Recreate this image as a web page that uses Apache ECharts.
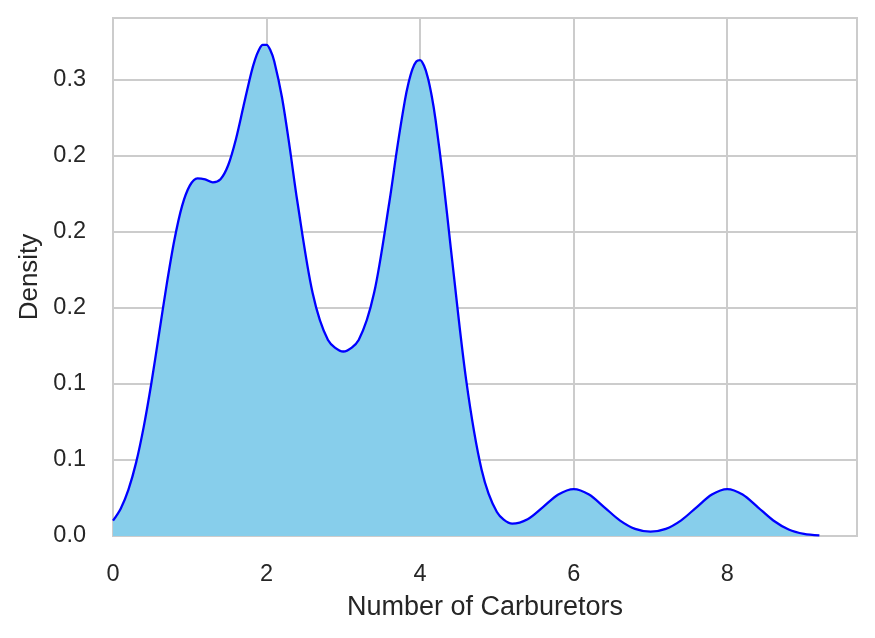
<!DOCTYPE html>
<html>
<head>
<meta charset="utf-8">
<script src="https://cdn.jsdelivr.net/npm/echarts@6/dist/echarts.min.js"></script>
<style>
  html, body { margin: 0; padding: 0; background: #ffffff; }
  #chart { width: 875px; height: 638px; }
</style>
</head>
<body>
<div id="chart"></div>
<script>
// Density curve (x = number of carburetors, y = density)
const xValues = [
  0.0, 0.1, 0.2, 0.3, 0.4, 0.5, 0.6, 0.7, 0.8, 0.9,
  1.0, 1.1, 1.2, 1.3, 1.4, 1.5, 1.6, 1.7, 1.8, 1.85, 1.9, 1.95,
  2.0, 2.05, 2.1, 2.2, 2.3, 2.4, 2.6, 2.8, 3.0, 3.2, 3.4,
  3.6, 3.7, 3.8, 3.85, 3.9, 3.95, 4.0, 4.05, 4.1, 4.15, 4.2, 4.3, 4.4, 4.6,
  4.8, 5.0, 5.2, 5.4, 5.6, 5.8, 6.0, 6.2, 6.4, 6.6,
  6.8, 7.0, 7.2, 7.4, 7.6, 7.8, 8.0, 8.2, 8.4, 8.6,
  8.8, 9.0, 9.2
];
const densityValues = [
  0.0101, 0.0180, 0.0304, 0.0481, 0.0718, 0.1007, 0.1331, 0.1657, 0.1949, 0.2172,
  0.2305, 0.2353, 0.2346, 0.2327, 0.2347, 0.2439, 0.2609, 0.2829, 0.3046, 0.3134, 0.3197, 0.3231,
  0.3231, 0.3196, 0.3124, 0.2888, 0.2562, 0.2204, 0.1599, 0.1290, 0.1214, 0.1290, 0.1598,
  0.2199, 0.2549, 0.2861, 0.2983, 0.3072, 0.3122, 0.3131, 0.3095, 0.3017, 0.2898, 0.2742, 0.2348, 0.1893, 0.1025,
  0.0438, 0.0158, 0.0081, 0.0110, 0.0190, 0.0273, 0.0309, 0.0273, 0.0189, 0.0103,
  0.0047, 0.0029, 0.0047, 0.0103, 0.0189, 0.0273, 0.0309, 0.0273, 0.0189, 0.0102,
  0.0043, 0.0014, 0.0004
];
const xTicks = [0, 2, 4, 6, 8];
const xTickLabels = ['0', '2', '4', '6', '8'];
const yTicks = [0.0, 0.05, 0.10, 0.15, 0.20, 0.25, 0.30];
const yTickLabels = ['0.0', '0.1', '0.1', '0.2', '0.2', '0.2', '0.3'];
const xTitle = 'Number of Carburetors';
const yTitle = 'Density';

function labelFor(ticks, labels, v) {
  for (let i = 0; i < ticks.length; i++) {
    if (Math.abs(ticks[i] - v) < 1e-6) return labels[i];
  }
  return '';
}

const chart = echarts.init(document.getElementById('chart'), null, { renderer: 'canvas' });
const textColor = '#262626';
const gridColor = '#cccccc';
const fontFamily = '"Liberation Sans", Arial, sans-serif';

chart.setOption({
  backgroundColor: '#ffffff',
  animation: false,
  grid: {
    left: 113, right: 18, top: 18, bottom: 102,
    show: true, borderColor: gridColor, borderWidth: 2, backgroundColor: 'transparent'
  },
  xAxis: {
    type: 'value',
    min: 0, max: 9.69, interval: 2,
    name: xTitle, nameLocation: 'middle', nameGap: 58,
    nameTextStyle: { color: textColor, fontSize: 27, fontFamily: fontFamily },
    axisLine: { show: false },
    axisTick: { show: false },
    axisLabel: {
      color: textColor, fontSize: 23.5, fontFamily: fontFamily, margin: 27,
      formatter: v => labelFor(xTicks, xTickLabels, v)
    },
    splitLine: { show: true, lineStyle: { color: gridColor, width: 2 } }
  },
  yAxis: {
    type: 'value',
    min: 0, max: 0.3408, interval: 0.05,
    name: yTitle, nameLocation: 'middle', nameGap: 60,
    nameTextStyle: { color: textColor, fontSize: 26, fontFamily: fontFamily },
    axisLine: { show: false },
    axisTick: { show: false },
    axisLabel: {
      color: textColor, fontSize: 23.5, fontFamily: fontFamily, margin: 27,
      formatter: v => labelFor(yTicks, yTickLabels, v)
    },
    splitLine: { show: true, lineStyle: { color: gridColor, width: 2 } }
  },
  series: [{
    type: 'line',
    data: xValues.map((x, i) => [x, densityValues[i]]),
    smooth: 0.3,
    showSymbol: false,
    symbol: 'none',
    lineStyle: { color: '#0000ff', width: 2.3, join: 'round' },
    areaStyle: { color: '#87ceeb', opacity: 1 },
    z: 3
  }]
});
</script>
</body>
</html>
